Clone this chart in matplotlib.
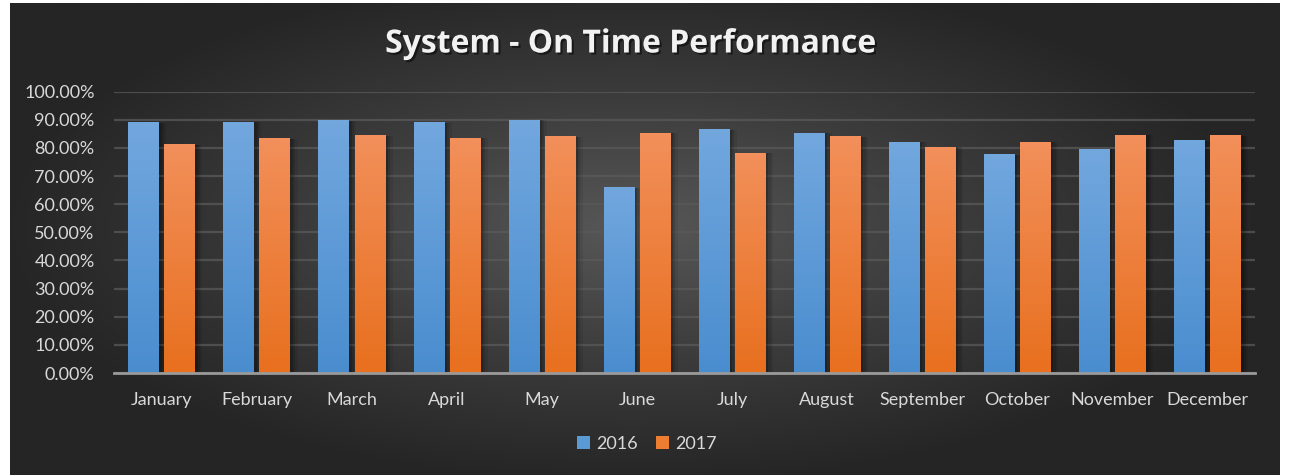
import numpy as np
import matplotlib
matplotlib.use("Agg")
from matplotlib import pyplot as plt
from matplotlib import patheffects as pe
from matplotlib.patches import Rectangle
from matplotlib.colors import LinearSegmentedColormap
from matplotlib.ticker import FuncFormatter, MultipleLocator

months = ["January", "February", "March", "April", "May", "June", "July",
          "August", "September", "October", "November", "December"]
series_2016 = [0.889, 0.892, 0.896, 0.889, 0.899, 0.658, 0.864, 0.853, 0.821, 0.775, 0.796, 0.825]
series_2017 = [0.811, 0.832, 0.843, 0.835, 0.839, 0.853, 0.782, 0.839, 0.803, 0.821, 0.846, 0.843]
series_names = ["2016", "2017"]

W, H = 1290, 475
plt.rcParams['font.family'] = ['Lato', 'DejaVu Sans']

fig = plt.figure(figsize=(W / 100, H / 100), dpi=100, facecolor='white')

# dark panel with a radial gradient (Excel style)
bg = fig.add_axes([10 / W, 0, 1270 / W, 472 / H])
bg.set_axis_off()
gx, gy = np.meshgrid(np.linspace(-1, 1, 400), np.linspace(-1, 1, 200))
r = np.clip(np.sqrt(((gx + 0.02) / 1.0) ** 2 + ((gy + 0.05) / 1.1) ** 2), 0, 1)
bg_cmap = LinearSegmentedColormap.from_list("bg", ["#575757", "#3c3c3c", "#252525"])
bg.imshow(r, cmap=bg_cmap, aspect='auto', extent=[0, 1, 0, 1], interpolation='bilinear')
bg.set_xlim(0, 1)
bg.set_ylim(0, 1)

ax = fig.add_axes([114 / W, 1 - 373 / H, 1141 / W, (373 - 91.7) / H])
ax.patch.set_alpha(0)

x = np.arange(len(months))
bw = 0.32
offsets = [-0.19, 0.19]
grads = [("#72a7de", "#4a8dcf"), ("#f28f5a", "#e8701f")]

for vals, off, (ctop, cbot) in zip([series_2016, series_2017], offsets, grads):
    cm = LinearSegmentedColormap.from_list("g", [cbot, ctop])
    for xi, v in zip(x, vals):
        x0 = xi + off - bw / 2
        # soft shadow
        for k, a in zip([0.03, 0.055, 0.08], [0.18, 0.12, 0.07]):
            ax.add_patch(Rectangle((x0 + k, 0), bw, v, facecolor='black',
                                   alpha=a, lw=0, zorder=2))
        ax.imshow(np.linspace(0, 1, 64).reshape(-1, 1), cmap=cm, origin='lower',
                  extent=[x0, x0 + bw, 0, v], aspect='auto', zorder=3)

ax.set_xlim(-0.5, len(months) - 0.5)
ax.set_ylim(0, 1.0)
ax.yaxis.set_major_locator(MultipleLocator(0.1))
ax.yaxis.set_major_formatter(FuncFormatter(lambda v, p: f"{v * 100:.2f}%"))
ax.set_xticks(x)
ax.set_xticklabels(months)
ax.tick_params(axis='both', length=0, colors='#d9d9d9', labelsize=13)
ax.tick_params(axis='x', pad=14)
ax.tick_params(axis='y', pad=14)
ax.grid(axis='y', color='#5a5a5a', lw=1.6, alpha=0.75, zorder=1)
ax.set_axisbelow(True)
for s in ['top', 'right', 'left']:
    ax.spines[s].set_visible(False)
ax.spines['bottom'].set_color('#9a9a9a')
ax.spines['bottom'].set_linewidth(2)
ax.spines['bottom'].set_zorder(4)

fig.text(631 / W, 1 - 44 / H, "System - On Time Performance", ha='center', va='center',
         fontsize=23, fontweight='bold', color='#f2f2f2', family=['Open Sans', 'DejaVu Sans'],
         path_effects=[pe.withSimplePatchShadow(offset=(1.5, -1.5), shadow_rgbFace='black', alpha=0.5)])

handles = [Rectangle((0, 0), 1, 1, facecolor="#5b9bd5"), Rectangle((0, 0), 1, 1, facecolor="#ed7d31")]
leg = fig.legend(handles, series_names, loc='center', bbox_to_anchor=(647 / W, 1 - 444 / H),
                 ncol=2, frameon=False, handlelength=0.7, handleheight=0.7,
                 columnspacing=1.0, handletextpad=0.35, fontsize=13)
for t in leg.get_texts():
    t.set_color('#d9d9d9')

fig.savefig("out.png", dpi=100, facecolor='white')
